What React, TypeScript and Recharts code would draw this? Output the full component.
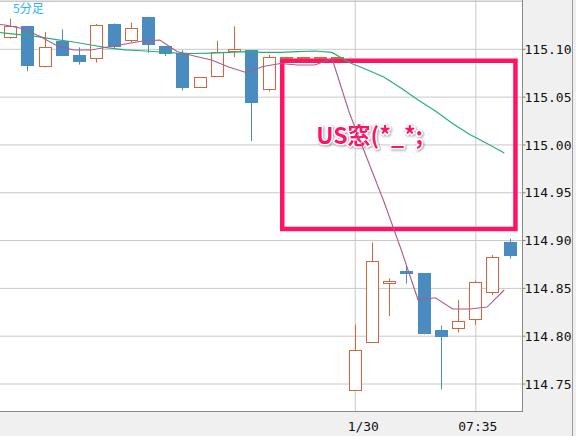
import {
  ComposedChart,
  Bar,
  Line,
  XAxis,
  YAxis,
  CartesianGrid,
  ReferenceArea,
  Label
} from 'recharts'

// 5-minute bars, the first one sits just off the left edge (only its averages show)
const times = [
  '05:15', '05:20', '05:25', '05:30', '05:35', '05:40', '05:45', '05:50',
  '05:55', '06:00', '06:05', '06:10', '06:15', '06:20', '06:25', '06:30',
  '06:35', '06:40', '06:45', '06:50', '06:55', '07:00', '07:05', '07:10',
  '07:15', '07:20', '07:25', '07:30', '07:35', '07:40', '07:45'
]

const opens = [
  null, 115.112, 115.124, 115.081, 115.109, 115.094, 115.0895, 115.126,
  115.109, 115.134, 115.1035, 115.096, 115.06, 115.071, 115.0975, 115.099,
  115.057, 115.092, 115.092, 115.092, 115.092, 114.743, 114.793, 114.855,
  114.868, 114.866, 114.8065, 114.807, 114.817, 114.845, 114.8985
]
const highs = [
  null, 115.132, 115.124, 115.118, 115.121, 115.102, 115.1265, 115.127,
  115.128, 115.134, 115.1035, 115.099, 115.071, 115.109, 115.124, 115.099,
  115.094, 115.092, 115.092, 115.092, 115.092, 114.812, 114.898, 114.8605,
  114.8734, 114.866, 114.811, 114.838, 114.858, 114.885, 114.902
]
const lows = [
  null, 115.111, 115.077, 115.081, 115.093, 115.084, 115.086, 115.101,
  115.107, 115.096, 115.093, 115.057, 115.06, 115.071, 115.092, 115.004,
  115.056, 115.092, 115.092, 115.092, 115.092, 114.743, 114.793, 114.821,
  114.855, 114.802, 114.7445, 114.804, 114.812, 114.843, 114.881
]
const closes = [
  null, 115.124, 115.083, 115.102, 115.093, 115.087, 115.125, 115.102,
  115.122, 115.104, 115.095, 115.06, 115.071, 115.0975, 115.1, 115.044,
  115.092, 115.092, 115.092, 115.092, 115.092, 114.786, 114.879, 114.858,
  114.865, 114.802, 114.7995, 114.816, 114.857, 114.8825, 114.884
]

// short (purple) and long (green) moving averages
const maShort = [
  115.1275, 115.1254, 115.1218, 115.1139, 115.104, 115.0993, 115.0993, 115.1024,
  115.1055, 115.1087, 115.1097, 115.0977, 115.093, 115.0888, 115.0815, 115.0757,
  115.082, 115.0852, 115.0836, 115.0836, 115.0904, 115.0339, 114.9874, 114.9414,
  114.8912, 114.8378, 114.8402, 114.8284, 114.8284, 114.8305, 114.8483
]
const maLong = [
  115.1191, 115.117, 115.115, 115.1129, 115.1102, 115.1076, 115.1045, 115.1014,
  115.0993, 115.0985, 115.0972, 115.0961, 115.0956, 115.0961, 115.0967, 115.0975,
  115.0967, 115.0967, 115.0975, 115.0982, 115.0967, 115.0862, 115.0789, 115.071,
  115.0595, 115.047, 115.0355, 115.0224, 115.0109, 115.0015, 114.9916
]

const yTicks = [114.75, 114.8, 114.85, 114.9, 114.95, 115.0, 115.05, 115.1, 115.15]
const xTicks = ['07:00', '07:35']
const xTickLabels: Record<string, string> = { '07:00': '1/30', '07:35': '07:35' }

const BLUE = '#4b8cc0'
const ORANGE = '#d4653f'
const PURPLE = '#ad5a8c'
const GREEN = '#2aae78'
const PINK = '#ff1464'
const MONO = '"DejaVu Sans Mono", monospace'

const rows = times.map((t, i) => ({
  t,
  lx: i + 0.15,
  range: opens[i] == null ? null : [lows[i], highs[i]],
  open: opens[i],
  high: highs[i],
  low: lows[i],
  close: closes[i],
  maShort: maShort[i],
  maLong: maLong[i]
}))

function Candle(props: any) {
  const { x, y, width, height, payload } = props
  if (payload == null || payload.open == null) return <g />
  const { open, high, low, close } = payload
  const span = high - low
  const py = (v: number) => (span > 0 ? y + ((high - v) / span) * height : y)
  const bx = Math.round(x)
  const cx = bx + 6.5
  const yHigh = py(high)
  const yLow = py(low)
  const top = Math.round(py(Math.max(open, close)))
  const bottom = Math.round(py(Math.min(open, close)))

  if (close >= open) {
    return (
      <g>
        <line x1={cx} x2={cx} y1={yHigh} y2={top} stroke={ORANGE} />
        <line x1={cx} x2={cx} y1={bottom} y2={yLow} stroke={ORANGE} />
        <rect
          x={bx + 0.5}
          y={top + 0.5}
          width={12}
          height={Math.max(bottom - top - 1, 1)}
          fill="#fff"
          stroke={ORANGE}
        />
      </g>
    )
  }
  return (
    <g>
      <line x1={cx} x2={cx} y1={yHigh} y2={yLow} stroke={BLUE} />
      <rect x={bx} y={top} width={13} height={Math.max(bottom - top, 1)} fill={BLUE} />
    </g>
  )
}

function PriceTick(props: any) {
  const { x, y, payload } = props
  if (payload.value > 115.12) return <g />
  return (
    <g>
      <line x1={x - 3} x2={x} y1={y} y2={y} stroke="#888" />
      <text x={x - 1} y={y} dy={4.7} fontFamily={MONO} fontSize={13} fill="#111">
        {Number(payload.value).toFixed(2)}
      </text>
    </g>
  )
}

function TimeTick(props: any) {
  const { x, y, payload } = props
  const label = xTickLabels[payload.value] ?? payload.value
  const dx = label.includes('/') ? 8 : 2
  return (
    <text x={x + dx} y={y} dy={11} textAnchor="middle" fontFamily={MONO} fontSize={13} fill="#111">
      {label}
    </text>
  )
}

function BoxLabel(props: any) {
  const { viewBox } = props
  if (!viewBox) return null
  return (
    <text
      x={viewBox.x + 34}
      y={viewBox.y + 83}
      fontFamily='"Noto Sans CJK JP", sans-serif'
      fontWeight={700}
      fontSize={23}
      fill={PINK}
      stroke="#fff"
      strokeWidth={3}
      paintOrder="stroke"
      style={{ filter: 'drop-shadow(1px 1px 1px rgba(0,0,0,0.35))' }}
    >
      US窓(*_*;
    </text>
  )
}

export default function App() {
  return (
    <div
      style={{
        position: 'absolute',
        left: 0,
        top: 0,
        width: 576,
        height: 436,
        overflow: 'hidden',
        background: '#f0f0f0'
      }}
    >
      <div style={{ position: 'absolute', left: -15, top: 0 }}>
        <ComposedChart
          width={591}
          height={436}
          data={rows}
          margin={{ top: 0, right: 0, bottom: 0, left: 0 }}
        >
          <CartesianGrid stroke="#c8c8c8" fill="#fff" />
          <XAxis
            dataKey="t"
            ticks={xTicks}
            interval={0}
            height={24.5}
            padding={{ left: 0, right: 3.6 }}
            axisLine={false}
            tickLine={false}
            tick={<TimeTick />}
          />
          <XAxis
            xAxisId="n"
            dataKey="lx"
            type="number"
            domain={[0, 31]}
            allowDataOverflow
            padding={{ left: 0, right: 3.6 }}
            hide
          />
          <YAxis
            orientation="right"
            domain={[114.72125, 115.15155]}
            allowDataOverflow
            ticks={yTicks}
            interval={0}
            width={53.5}
            tickSize={3}
            tickMargin={0}
            axisLine={false}
            tickLine={false}
            tick={<PriceTick />}
          />
          <Bar dataKey="range" barSize={13} shape={<Candle />} isAnimationActive={false} />
          <Line
            xAxisId="n"
            dataKey="maLong"
            type="linear"
            stroke={GREEN}
            strokeWidth={1.2}
            dot={false}
            isAnimationActive={false}
          />
          <Line
            xAxisId="n"
            dataKey="maShort"
            type="linear"
            stroke={PURPLE}
            strokeWidth={1.1}
            dot={false}
            isAnimationActive={false}
          />
          <ReferenceArea
            xAxisId="n"
            x1={17.26}
            x2={30.8}
            y1={114.912}
            y2={115.088}
            fill="none"
            stroke={PINK}
            strokeWidth={4.5}
            ifOverflow="visible"
          >
            <Label content={<BoxLabel />} />
          </ReferenceArea>
        </ComposedChart>
      </div>
      <div
        style={{
          position: 'absolute',
          left: 0,
          top: 0,
          width: 522,
          height: 411,
          borderRight: '1px solid #888',
          borderBottom: '1px solid #888',
          pointerEvents: 'none'
        }}
      />
      <div
        style={{
          position: 'absolute',
          left: 572,
          top: 0,
          width: 1,
          height: 436,
          background: '#9a9a9a'
        }}
      />
      <div
        style={{
          position: 'absolute',
          left: 13,
          top: 1,
          fontFamily: '"Noto Sans CJK JP", sans-serif',
          fontSize: 12,
          lineHeight: '14px',
          color: '#2bb5f0'
        }}
      >
        5分足
      </div>
    </div>
  )
}
